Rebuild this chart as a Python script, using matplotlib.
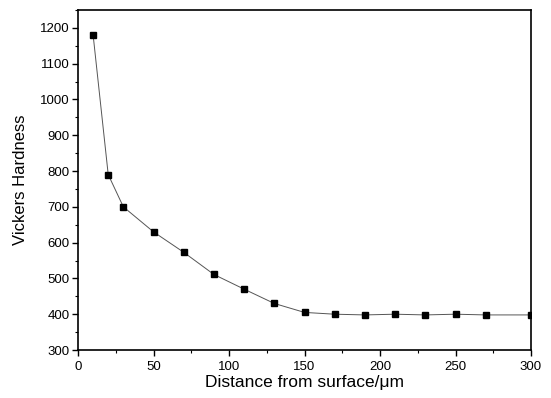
import matplotlib
matplotlib.use('Agg')
import matplotlib.pyplot as plt
from matplotlib.ticker import MultipleLocator

plt.rcParams['font.family'] = ['Liberation Sans', 'DejaVu Sans']

# distance from surface (um) and hardness
distance = [10, 20, 30, 50, 70, 90, 110, 130, 150, 170, 190, 210, 230, 250, 270, 300]
hardness = [1180, 790, 700, 630, 573, 511, 470, 430, 405, 400, 398, 400, 398, 400, 398, 398]

fig = plt.figure(figsize=(5.51, 3.98), dpi=100)
ax = fig.add_axes([0.1416, 0.1206, 0.8221, 0.8544])

ax.plot(distance, hardness, color='#555555', lw=0.7, marker='s',
        markersize=5, markerfacecolor='black', markeredgecolor='black')

ax.set_xlim(0, 300)
ax.set_ylim(300, 1250)
ax.xaxis.set_major_locator(MultipleLocator(50))
ax.xaxis.set_minor_locator(MultipleLocator(25))
ax.yaxis.set_major_locator(MultipleLocator(100))
ax.yaxis.set_minor_locator(MultipleLocator(50))
ax.tick_params(which='major', direction='out', length=4, width=1, labelsize=9.5, pad=2)
ax.tick_params(axis='x', which='major', pad=4)
ax.tick_params(which='minor', direction='out', length=2, width=0.8)

for s in ax.spines.values():
    s.set_linewidth(1.2)

ax.set_xlabel('Distance from surface/\u03bcm', fontsize=12.5, labelpad=1)
ax.set_ylabel('Vickers Hardness', fontsize=12, labelpad=9)

fig.savefig('out.png', dpi=100)
